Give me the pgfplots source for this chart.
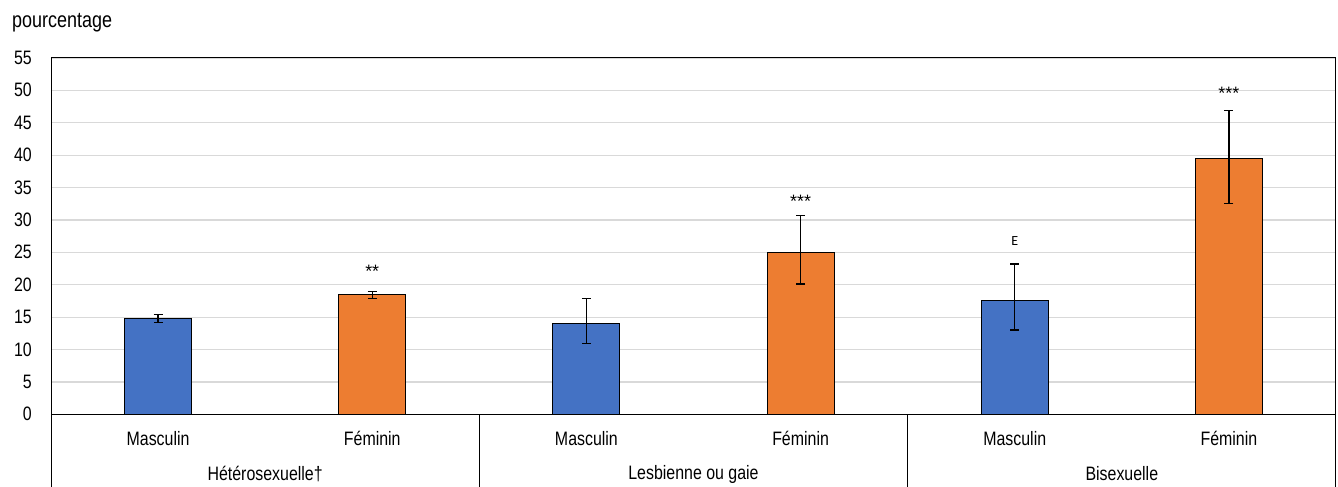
\documentclass[border=0pt]{standalone}
\usepackage{pgfplots}
\pgfplotsset{compat=1.18}
\usepackage{fontspec}
\setmainfont{Liberation Sans}[FakeStretch=0.82]
\newfontfamily\calib{Carlito}
\newfontfamily\astf{Liberation Sans}
\definecolor{mblue}{HTML}{4472C4}
\definecolor{forange}{HTML}{ED7D31}
\definecolor{gridc}{HTML}{D9D9D9}
\begin{document}
\begin{tikzpicture}
\path[use as bounding box] (-51bp,-72.7bp) rectangle (1287bp,414.3bp);
\begin{axis}[
  at={(0,0)}, anchor=south west,
  width=1285bp, height=356.4bp, scale only axis,
  xmin=0, xmax=6, ymin=0, ymax=55,
  ytick={0,5,...,55},
  xtick={0.5,1.5,...,5.5},
  xticklabels={Masculin,Féminin,Masculin,Féminin,Masculin,Féminin},
  major tick length=0pt,
  tick style={draw=none},
  ymajorgrids, grid style={gridc, line width=1.2bp},
  axis line style={black, line width=1bp},
  ticklabel style={font=\fontsize{19.5}{22}\selectfont},
  yticklabel style={anchor=east, inner sep=0pt, xshift=-19bp},
  xticklabel style={anchor=center, inner sep=0pt, yshift=-24.4bp},
  /pgf/number format/assume math mode=true,
  clip=false,
  ybar, bar width=0.313, bar shift=0pt,
]
\addplot[ybar, fill=mblue, draw=black, line width=1bp,
  error bars/.cd, y dir=both, y explicit,
  error bar style={black, line width=1.2bp},
  error mark options={rotate=90, black, line width=1.2bp, mark size=4.5bp}]
  coordinates {
    (0.5,14.75) += (0,0.65) -= (0,0.55)
    (2.5,14.0)  += (0,3.9)  -= (0,3.1)
    (4.5,17.5)  += (0,5.7)  -= (0,4.5)
  };
\addplot[ybar, fill=forange, draw=black, line width=1bp,
  error bars/.cd, y dir=both, y explicit,
  error bar style={black, line width=1.2bp},
  error mark options={rotate=90, black, line width=1.2bp, mark size=4.5bp}]
  coordinates {
    (1.5,18.45) += (0,0.45) -= (0,0.6)
    (3.5,25.0)  += (0,5.7)  -= (0,4.9)
    (5.5,39.4)  += (0,7.45) -= (0,6.9)
  };
\node[font=\astf\fontsize{18}{20}\selectfont] at (axis cs:1.5,22.0) {**};
\node[font=\astf\fontsize{18}{20}\selectfont] at (axis cs:3.5,32.9) {***};
\node[font=\calib\fontsize{14}{16}\selectfont] at (axis cs:4.5,26.8) {E};
\node[font=\astf\fontsize{18}{20}\selectfont] at (axis cs:5.5,49.5) {***};
\draw[black, line width=1bp] (axis cs:0,0) -- ++(0,-72.7bp);
\draw[black, line width=1bp] (axis cs:2,0) -- ++(0,-72.7bp);
\draw[black, line width=1bp] (axis cs:4,0) -- ++(0,-72.7bp);
\draw[black, line width=1bp] (axis cs:6,0) -- ++(0,-72.7bp);
\node[font=\fontsize{19.5}{22}\selectfont] at ([yshift=-59.7bp]axis cs:1,0) {Hétérosexuelle†};
\node[font=\fontsize{19.5}{22}\selectfont] at ([yshift=-59.7bp]axis cs:3,0) {Lesbienne ou gaie};
\node[font=\fontsize{19.5}{22}\selectfont] at ([yshift=-59.7bp]axis cs:5,0) {Bisexuelle};
\node[anchor=west, inner sep=0pt, font=\fontsize{22}{24}\selectfont] at ([xshift=-39bp, yshift=35.4bp]axis cs:0,55) {pourcentage};
\end{axis}
\end{tikzpicture}
\end{document}
